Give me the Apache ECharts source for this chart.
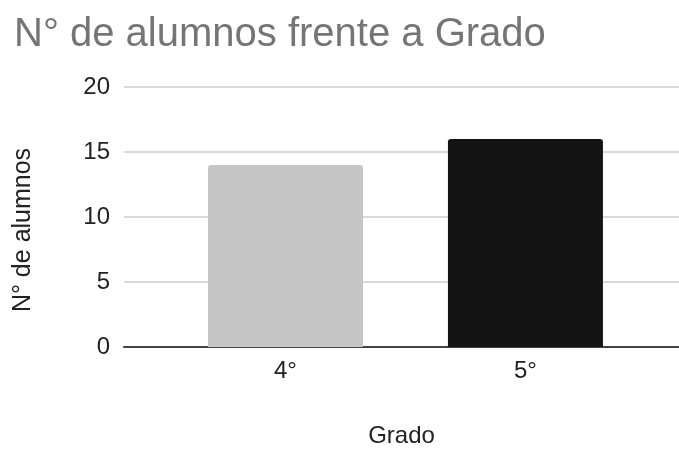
<!DOCTYPE html>
<html>
<head>
<meta charset="utf-8">
<script src="https://cdn.jsdelivr.net/npm/echarts@6/dist/echarts.min.js"></script>
<style>html,body{margin:0;padding:0;background:#fff;}#c{width:679px;height:449px;}</style>
</head>
<body>
<div id="c"></div>
<script>
const titleText = 'N° de alumnos frente a Grado';
const categories = ['4°', '5°'];
const values = [14, 16];
const barColors = ['#c6c6c6', '#141414'];
const yTicks = [0, 5, 10, 15, 20];

const chart = echarts.init(document.getElementById('c'));
const font = 'Liberation Sans, Arial, sans-serif';
chart.setOption({
  animation: false,
  backgroundColor: '#ffffff',
  title: {
    text: titleText,
    left: 9,
    top: 10,
    textStyle: { color: '#757575', fontSize: 40, fontWeight: 'normal', fontFamily: font }
  },
  grid: { left: 124, right: 0, top: 87, bottom: 102, outerBoundsMode: 'none', containLabel: false },
  xAxis: {
    type: 'value',
    min: -0.673,
    max: 1.64,
    name: 'Grado',
    nameLocation: 'middle',
    nameGap: 77,
    nameTextStyle: { color: '#222', fontSize: 24, fontFamily: font },
    axisLine: { show: true, lineStyle: { color: '#444', width: 2 } },
    axisTick: { show: false },
    splitLine: { show: false },
    axisLabel: {
      customValues: [0, 1],
      formatter: function (v) { return categories[Math.round(v)]; },
      color: '#222', fontSize: 24, fontFamily: font, margin: 12
    }
  },
  yAxis: {
    type: 'value',
    min: yTicks[0],
    max: yTicks[yTicks.length - 1],
    interval: 5,
    name: 'N° de alumnos',
    nameLocation: 'middle',
    nameGap: 88,
    nameTextStyle: { color: '#222', fontSize: 25, fontFamily: font, padding: [0, 26, 0, 0] },
    axisLine: { show: false },
    axisTick: { show: false },
    splitLine: { lineStyle: { color: '#cccccc', width: 1.5 } },
    axisLabel: { color: '#222', fontSize: 24, fontFamily: font, margin: 14 }
  },
  series: [{
    type: 'bar',
    barWidth: 155,
    data: values.map(function (v, i) {
      return { value: [i, v], itemStyle: { color: barColors[i], borderRadius: [3, 3, 0, 0] } };
    })
  }]
});
</script>
</body>
</html>
